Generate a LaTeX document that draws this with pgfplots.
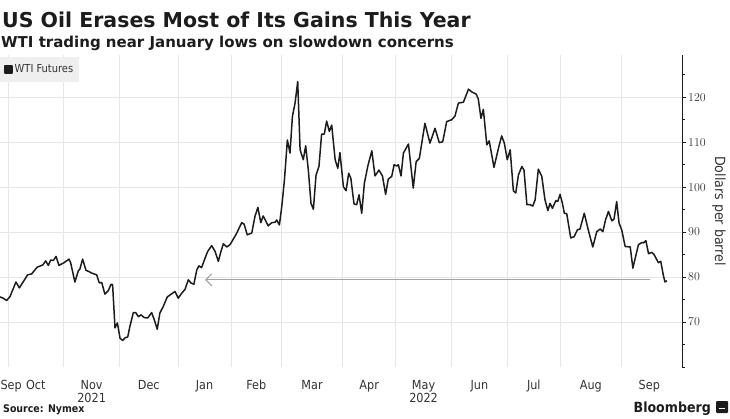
\documentclass[border=0pt]{standalone}
\usepackage{pgfplots}
\pgfplotsset{compat=1.18}
\usepackage{pgfplotstable}
\usetikzlibrary{arrows.meta}
\usepackage{fontspec}
\setmainfont{DejaVu Sans Condensed}
\newfontfamily\titlefont{DejaVu Sans}

\definecolor{gridgray}{HTML}{E6E6E6}
\definecolor{arrowgray}{HTML}{A3A3A3}
\definecolor{ink}{HTML}{1C1C1C}
\definecolor{legendbg}{HTML}{EFEFEF}

% x = trading days since 1 Oct 2021, y = WTI front-month close ($/bbl)
\pgfplotstableread{
day price
-3.0 75.6
-1.8 75.3
-0.5 74.8
0.8 75.7
3.0 78.9
4.3 77.6
5.8 79.0
7.4 80.5
8.9 80.7
11.0 82.2
13.1 82.7
14.2 83.6
15.2 82.6
16.1 83.8
17.1 83.7
18.1 84.6
19.2 82.6
21.1 83.2
23.0 84.0
23.6 83.2
25.2 78.9
26.5 81.4
27.1 81.8
28.1 84.0
29.4 81.5
30.6 81.2
31.5 80.9
33.4 80.5
34.4 78.7
35.3 78.8
36.5 76.2
37.8 77.0
38.8 78.4
39.4 78.3
40.3 68.7
41.2 69.8
42.2 66.4
43.2 65.9
44.1 66.5
45.1 66.7
45.9 69.0
47.2 72.1
48.1 72.1
49.1 71.2
50.1 71.6
51.3 71.0
52.6 70.9
54.1 72.1
55.1 70.5
56.2 68.4
57.2 72.0
58.5 73.5
60.0 75.6
61.7 76.3
62.9 76.8
64.1 75.3
65.4 76.4
66.7 77.3
67.9 79.4
68.9 78.7
70.0 78.4
71.1 81.6
71.9 82.5
72.9 82.1
74.2 84.2
75.2 85.7
76.7 87.0
78.0 85.7
79.2 83.5
80.2 85.7
81.1 87.4
82.4 86.7
83.6 87.2
84.5 88.1
85.9 89.5
88.0 92.1
88.9 91.8
90.1 89.4
91.8 89.8
93.0 93.5
94.1 95.5
95.2 92.1
96.1 93.6
98.0 91.4
99.3 92.1
100.6 92.2
101.2 92.7
102.2 91.6
103.1 95.7
104.1 101.6
105.2 110.5
106.2 107.6
107.1 115.7
108.1 118.7
109.1 123.5
110.0 108.3
111.2 106.1
112.1 109.2
113.1 103.8
114.1 96.4
115.0 95.1
116.0 102.7
117.1 104.6
118.1 111.8
119.1 111.8
120.0 114.7
121.0 112.4
121.9 113.8
123.2 106.1
124.2 104.2
125.0 107.7
126.3 100.1
127.3 99.2
128.3 103.1
129.1 102.0
130.3 96.3
131.3 96.1
132.2 98.3
133.2 94.2
134.2 100.9
135.5 104.7
137.0 108.1
138.2 102.5
139.7 103.8
141.0 102.5
142.2 98.4
143.2 101.8
144.5 102.4
145.4 105.0
146.4 104.7
147.0 105.0
148.0 102.5
148.9 107.6
150.8 109.6
152.6 99.8
153.7 105.7
154.9 106.4
157.0 114.2
158.9 109.8
160.8 113.1
162.4 109.9
163.7 110.1
165.2 114.6
167.1 115.0
168.3 115.8
169.6 118.7
171.5 118.9
173.4 121.8
174.6 121.2
176.3 120.7
177.1 119.6
178.1 115.3
179.0 117.3
180.3 109.4
181.2 110.3
183.0 104.4
184.7 108.7
185.9 111.4
186.9 109.8
188.0 106.1
189.1 108.3
190.3 99.2
191.2 98.7
192.2 102.7
193.5 104.6
194.3 103.8
195.4 96.1
196.6 96.1
197.6 95.8
198.5 97.2
199.7 104.0
201.0 102.4
202.2 97.2
203.3 94.8
204.1 96.4
205.0 95.3
206.3 97.0
207.0 96.8
207.9 98.4
208.8 96.3
209.5 94.2
210.4 94.1
211.9 88.7
213.2 89.0
214.4 90.5
215.4 90.7
217.0 94.2
218.5 90.5
220.2 86.7
221.7 90.1
223.0 90.7
224.0 90.1
225.0 92.7
226.1 94.6
227.4 92.5
228.2 92.9
229.2 96.8
230.1 92.0
231.1 90.5
232.4 86.8
234.3 86.7
235.3 82.0
236.1 84.0
237.4 87.2
238.7 87.7
239.3 87.6
240.2 88.1
241.2 85.2
242.4 85.5
243.3 85.0
244.9 83.2
245.8 83.5
246.8 80.3
247.4 78.9
248.1 79.2
}\wti

\begin{document}
\begin{tikzpicture}
\path[use as bounding box] (0pt,0pt) rectangle (730pt,418pt);

\node[anchor=base west, inner sep=0pt, font=\titlefont\fontsize{20.5}{24}\selectfont\bfseries, text=ink]
  at (2pt,390pt) {US Oil Erases Most of Its Gains This Year};
\node[anchor=base west, inner sep=0pt, font=\titlefont\fontsize{15}{18}\selectfont\bfseries, text=ink]
  at (1pt,370.5pt) {WTI trading near January lows on slowdown concerns};

\begin{axis}[
  at={(0pt,51pt)}, anchor=south west,
  width=682pt, height=312pt, scale only axis,
  xmin=-3, xmax=253.8,
  ymin=60, ymax=129.4,
  axis x line*=bottom, axis y line*=right,
  x axis line style={draw=none},
  y axis line style={draw=ink, line width=0.9pt},
  xtick={1.2,10.5,31.5,53,74,93.5,114.5,136,156.5,177.5,198,219.5,241.5},
  xticklabels={Sep,Oct,Nov\\2021,Dec,Jan,Feb,Mar,Apr,May\\2022,Jun,Jul,Aug,Sep},
  xtick style={draw=none},
  xticklabel style={align=center, inner sep=0pt, yshift=-9pt,
    font=\fontsize{12.5}{13.5}\selectfont, text=ink!90},
  extra x ticks={0,21,42,64,84,103,126,146,167,188,208,231},
  extra x tick labels={},
  extra x tick style={grid=major, tick style={draw=none}},
  ytick={70,80,...,120},
  minor ytick={60,65,...,125},
  ymajorgrids=true,
  major grid style={draw=gridgray, line width=0.8pt},
  tick align=outside,
  major tick length=4pt, minor tick length=3pt,
  ytick style={draw=ink, line width=0.8pt},
  minor tick style={draw=ink, line width=0.8pt},
  yticklabel style={inner sep=0pt, xshift=2pt,
    font=\fontsize{12.5}{14}\selectfont, text=ink!90},
  ylabel={Dollars per barrel},
  every axis y label/.style={at={(axis description cs:1,0.5)}, xshift=37pt,
    rotate=-90, anchor=center, font=\fontsize{14}{16}\selectfont, text=ink!90},
  legend style={at={(axis description cs:0,1)}, anchor=north west, yshift=-2pt,
    fill=legendbg, draw=none, inner xsep=4pt, inner ysep=5.5pt,
    font=\fontsize{11}{13}\selectfont, text=ink!90},
  legend cell align=left,
  clip=false,
]
\addplot[arrowgray, line width=1.1pt,
  -{Straight Barb[length=6pt,width=12pt,line width=1.1pt]},
  forget plot]
  coordinates {(241.8,79.4) (74.2,79.4)};
\addplot[ink, line width=1.5pt, line join=round, mark=none,
  legend image code/.code={\fill[ink] (0pt,-3.5pt) rectangle (7pt,3.5pt);}]
  table[x=day, y=price] {\wti};
\addlegendentry{WTI Futures}
\end{axis}

\node[anchor=base west, inner sep=0pt, font=\fontsize{10.5}{12}\selectfont\bfseries, text=ink]
  at (3pt,6pt) {Source: Nymex};
\node[anchor=base east, inner sep=0pt, font=\fontsize{14}{16}\selectfont\bfseries, text=ink]
  at (711pt,6pt) {Bloomberg};
\fill[ink, rounded corners=1pt] (716pt,5pt) rectangle (728pt,17pt);
\fill[white] (719pt,9pt) rectangle (725pt,10.5pt);
\end{tikzpicture}
\end{document}
